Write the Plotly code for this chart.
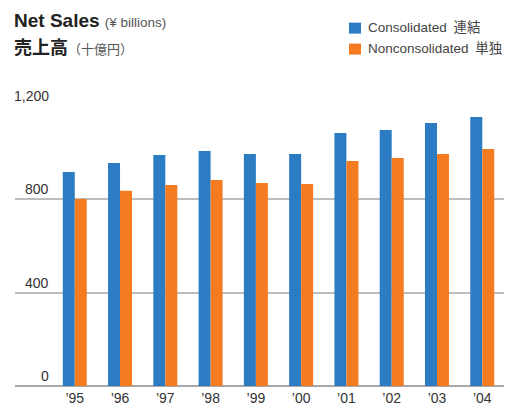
import plotly.graph_objects as go

years = ["\u201995", "\u201996", "\u201997", "\u201998", "\u201999",
         "\u201900", "\u201901", "\u201902", "\u201903", "\u201904"]
consolidated = [917, 956, 990, 1007, 994, 994, 1084, 1097, 1127, 1153]
nonconsolidated = [801, 837, 861, 883, 870, 866, 964, 977, 994, 1016]
y_ticks = [0, 400, 800, 1200]
y_tick_labels = ["0", "400", "800", "1,200"]

BLUE = "#2B7CC2"
ORANGE = "#F47B20"
SANS = "Liberation Sans, Arial, sans-serif"
CJK = "Noto Sans CJK JP, sans-serif"

W, H = 508, 405
L, R, T, B = 15, 504, 105.5, 386   # plot area in window pixels


def px(x):
    return (x - L) / (R - L)


def py(y):
    return (B - y) / (B - T)


fig = go.Figure()
fig.add_trace(go.Bar(x=years, y=consolidated, name="Consolidated", marker_color=BLUE,
                     marker_line_width=0))
fig.add_trace(go.Bar(x=years, y=nonconsolidated, name="Nonconsolidated", marker_color=ORANGE,
                     marker_line_width=0))

annotations = []
for v, lab in zip(y_ticks, y_tick_labels):
    annotations.append(dict(x=px(51), xref="paper", y=v, yref="y", text=lab,
                            showarrow=False, xanchor="right", yanchor="bottom", yshift=0,
                            font=dict(family=SANS, size=14, color="#333")))

annotations.append(dict(x=px(12), y=py(20), xref="paper", yref="paper", xanchor="left", yanchor="middle",
                        showarrow=False,
                        text="<b>Net Sales</b> <span style='font-size:13.5px;color:#555'>(\u00a5 billions)</span>",
                        font=dict(family=SANS, size=19, color="#222")))
annotations.append(dict(x=px(12), y=py(45.5), xref="paper", yref="paper", xanchor="left", yanchor="middle",
                        showarrow=False,
                        text="<b>売上高</b><span style='font-size:13px;color:#555'>（十億円）</span>",
                        font=dict(family=CJK, size=18, color="#222")))

shapes = []
legend_items = [("Consolidated\u2002連結", BLUE, 22, 33), ("Nonconsolidated\u2002単独", ORANGE, 43, 54)]
for text, col, y0, y1 in legend_items:
    shapes.append(dict(type="rect", xref="paper", yref="paper", x0=px(349), x1=px(361),
                       y0=py(y1), y1=py(y0), fillcolor=col, line_width=0))
    annotations.append(dict(x=px(366), y=py((y0 + y1) / 2 - 0.5), xref="paper", yref="paper",
                            xanchor="left", yanchor="middle", showarrow=False, text=text,
                            font=dict(family=SANS + ", " + CJK, size=13.5, color="#444")))

fig.update_layout(
    width=W, height=H,
    margin=dict(l=L, r=W - R, t=T, b=H - B, pad=0, autoexpand=False),
    paper_bgcolor="white", plot_bgcolor="white",
    barmode="group", bargap=0.47, bargroupgap=0,
    showlegend=False,
    annotations=annotations,
    shapes=shapes,
    xaxis=dict(type="category", range=[-1.32, 9.48], showgrid=False, showline=False,
               ticks="", ticklabelstandoff=2, automargin=False,
               tickfont=dict(family=SANS, size=14, color="#333"), fixedrange=True),
    yaxis=dict(range=[0, 1200], tickvals=y_ticks, showticklabels=False, showgrid=True,
               gridcolor="#BDBDBD", gridwidth=2, zeroline=True, zerolinecolor="#A8A8A8",
               zerolinewidth=2, showline=False, ticks="", automargin=False, fixedrange=True),
)

fig.write_html(
    "out.html",
    config={"displayModeBar": False},
    post_script="document.body.style.margin='0';document.documentElement.style.overflow='hidden';",
)
